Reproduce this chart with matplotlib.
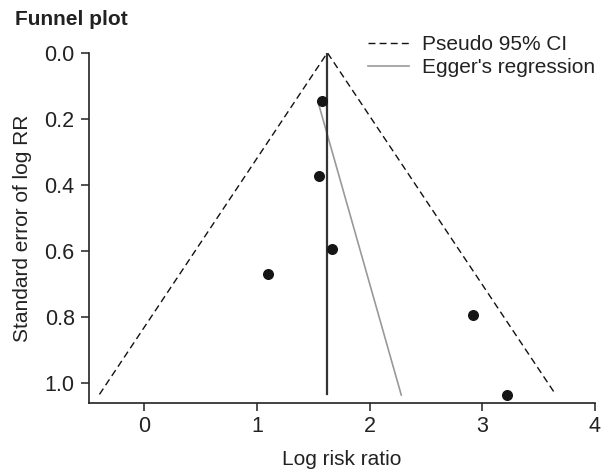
import matplotlib
matplotlib.use("Agg")
import matplotlib.pyplot as plt

# Data
log_rr = [1.58, 1.55, 1.665, 1.10, 2.92, 3.22]
se_log_rr = [0.146, 0.374, 0.596, 0.670, 0.793, 1.036]
pooled = 1.624
se_max = 1.035
funnel_x = [-0.40, pooled, 3.65]
funnel_se = [se_max, 0.0, se_max]
egger_x = [1.54, 2.28]
egger_se = [0.148, 1.037]
x_ticks = [0, 1, 2, 3, 4]
y_ticks = [0.0, 0.2, 0.4, 0.6, 0.8, 1.0]

plt.rcParams['font.family'] = ['Liberation Sans', 'DejaVu Sans']
txt = '#222222'

fig = plt.figure(figsize=(6.01, 4.75), dpi=100)
ax = fig.add_axes([0.1486, 0.1516, 0.8414, 0.7374])

ax.plot(funnel_x, funnel_se, color='#111111', lw=1.0, dashes=(5, 3),
        label='Pseudo 95% CI')
ax.plot(egger_x, egger_se, color='#999999', lw=1.2, label="Egger's regression")
ax.plot([pooled, pooled], [0.0, se_max], color='#333333', lw=1.6)
ax.scatter(log_rr, se_log_rr, s=48, color='#151515', zorder=5)

ax.set_xlim(-0.49, 4.0)
ax.set_ylim(1.061, 0.0)
ax.set_xticks(x_ticks)
ax.set_xticklabels([str(t) for t in x_ticks])
ax.set_yticks(y_ticks)
ax.set_yticklabels([f'{t:.1f}' for t in y_ticks])

for s in ['top', 'right']:
    ax.spines[s].set_visible(False)
for s in ['left', 'bottom']:
    ax.spines[s].set_color('#222222')
    ax.spines[s].set_linewidth(1.2)
ax.tick_params(axis='both', direction='out', length=5.5, width=1.1,
               colors='#222222', labelsize=15.5, labelcolor=txt)
ax.tick_params(axis='y', pad=5)
ax.tick_params(axis='x', pad=4)

ax.set_xlabel('Log risk ratio', fontsize=15, color=txt, labelpad=9)
ax.set_ylabel('Standard error of log RR', fontsize=15, color=txt, labelpad=9)

fig.text(0.025, 0.958, 'Funnel plot', fontsize=15, fontweight='bold',
         color=txt, ha='left', va='center')

leg = ax.legend(loc='upper left', bbox_to_anchor=(0.612, 0.926),
                bbox_transform=fig.transFigure, frameon=False,
                fontsize=15, handlelength=2.0, handletextpad=0.58,
                borderpad=0, borderaxespad=0, labelspacing=0.2)
for t in leg.get_texts():
    t.set_color(txt)

fig.savefig('out.png', dpi=100)
